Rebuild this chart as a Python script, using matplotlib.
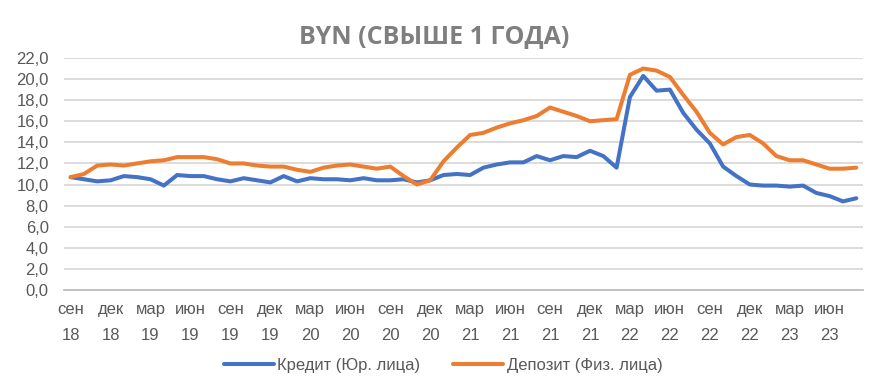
import matplotlib.pyplot as plt

plt.rcParams['font.family'] = ['Liberation Sans', 'DejaVu Sans']

# месяцы: сен 2018 ... авг 2023
months = ['сен', 'окт', 'ноя', 'дек', 'янв', 'фев', 'мар', 'апр', 'май', 'июн', 'июл', 'авг']
years = [18] * 4 + [19] * 12 + [20] * 12 + [21] * 12 + [22] * 12 + [23] * 8

credit = [10.7, 10.5, 10.3, 10.4, 10.8, 10.7, 10.5, 9.9, 10.9, 10.8,
          10.8, 10.5, 10.3, 10.6, 10.4, 10.2, 10.8, 10.3, 10.6, 10.5,
          10.5, 10.4, 10.6, 10.4, 10.4, 10.5, 10.2, 10.4, 10.9, 11.0,
          10.9, 11.6, 11.9, 12.1, 12.1, 12.7, 12.3, 12.7, 12.6, 13.2,
          12.7, 11.6, 18.3, 20.3, 18.9, 19.0, 16.8, 15.2, 13.9, 11.7,
          10.8, 10.0, 9.9, 9.9, 9.8, 9.9, 9.2, 8.9, 8.4, 8.7]

deposit = [10.7, 11.0, 11.8, 11.9, 11.8, 12.0, 12.2, 12.3, 12.6, 12.6,
           12.6, 12.4, 12.0, 12.0, 11.8, 11.7, 11.7, 11.4, 11.2, 11.6,
           11.8, 11.9, 11.7, 11.5, 11.7, 10.8, 10.0, 10.4, 12.2, 13.5,
           14.7, 14.9, 15.4, 15.8, 16.1, 16.5, 17.3, 16.9, 16.5, 16.0,
           16.1, 16.2, 20.4, 21.0, 20.8, 20.2, 18.5, 16.9, 14.9, 13.8,
           14.5, 14.7, 13.9, 12.7, 12.3, 12.3, 11.9, 11.5, 11.5, 11.6]

labels = []
for i, y in enumerate(years):
    labels.append('%s\n%d' % (months[i % 12], y))

x = list(range(len(credit)))

fig = plt.figure(figsize=(8.86, 3.88), dpi=100)
ax = fig.add_axes([0.0722, 0.2526, 0.9018, 0.598])

ax.plot(x, credit, color='#4472C4', lw=2.9, solid_capstyle='round',
        label='Кредит (Юр. лица)')
ax.plot(x, deposit, color='#ED7D31', lw=2.9, solid_capstyle='round',
        label='Депозит (Физ. лица)')

ax.set_xlim(-0.5, len(x) - 0.5)
ax.set_ylim(0, 22)
ax.set_yticks(range(0, 23, 2))
ax.set_yticklabels(['%d,0' % v for v in range(0, 23, 2)])
ax.set_xticks(x[::3])
ax.set_xticklabels(labels[::3], linespacing=1.85)

ax.grid(axis='y', color='#d9d9d9', lw=1.3)
ax.set_axisbelow(True)
for s in ['top', 'right', 'left']:
    ax.spines[s].set_visible(False)
ax.spines['bottom'].set_color('#bfbfbf')
ax.spines['bottom'].set_linewidth(1.3)
ax.tick_params(axis='both', length=0, colors='#595959', labelsize=12)
ax.tick_params(axis='x', pad=9)
ax.tick_params(axis='y', pad=11)

fig.text(0.49, 0.905, 'BYN (СВЫШЕ 1 ГОДА)', ha='center', va='center',
         fontsize=18, fontweight='bold', color='#7f7f7f', family='Open Sans')

fig.legend(loc='lower center', bbox_to_anchor=(0.5, 0.0), ncol=2, frameon=False,
           handlelength=3.0, handletextpad=0.2, columnspacing=2.0,
           labelcolor='#595959', prop={'size': 12})

fig.savefig('out.png', dpi=100)
